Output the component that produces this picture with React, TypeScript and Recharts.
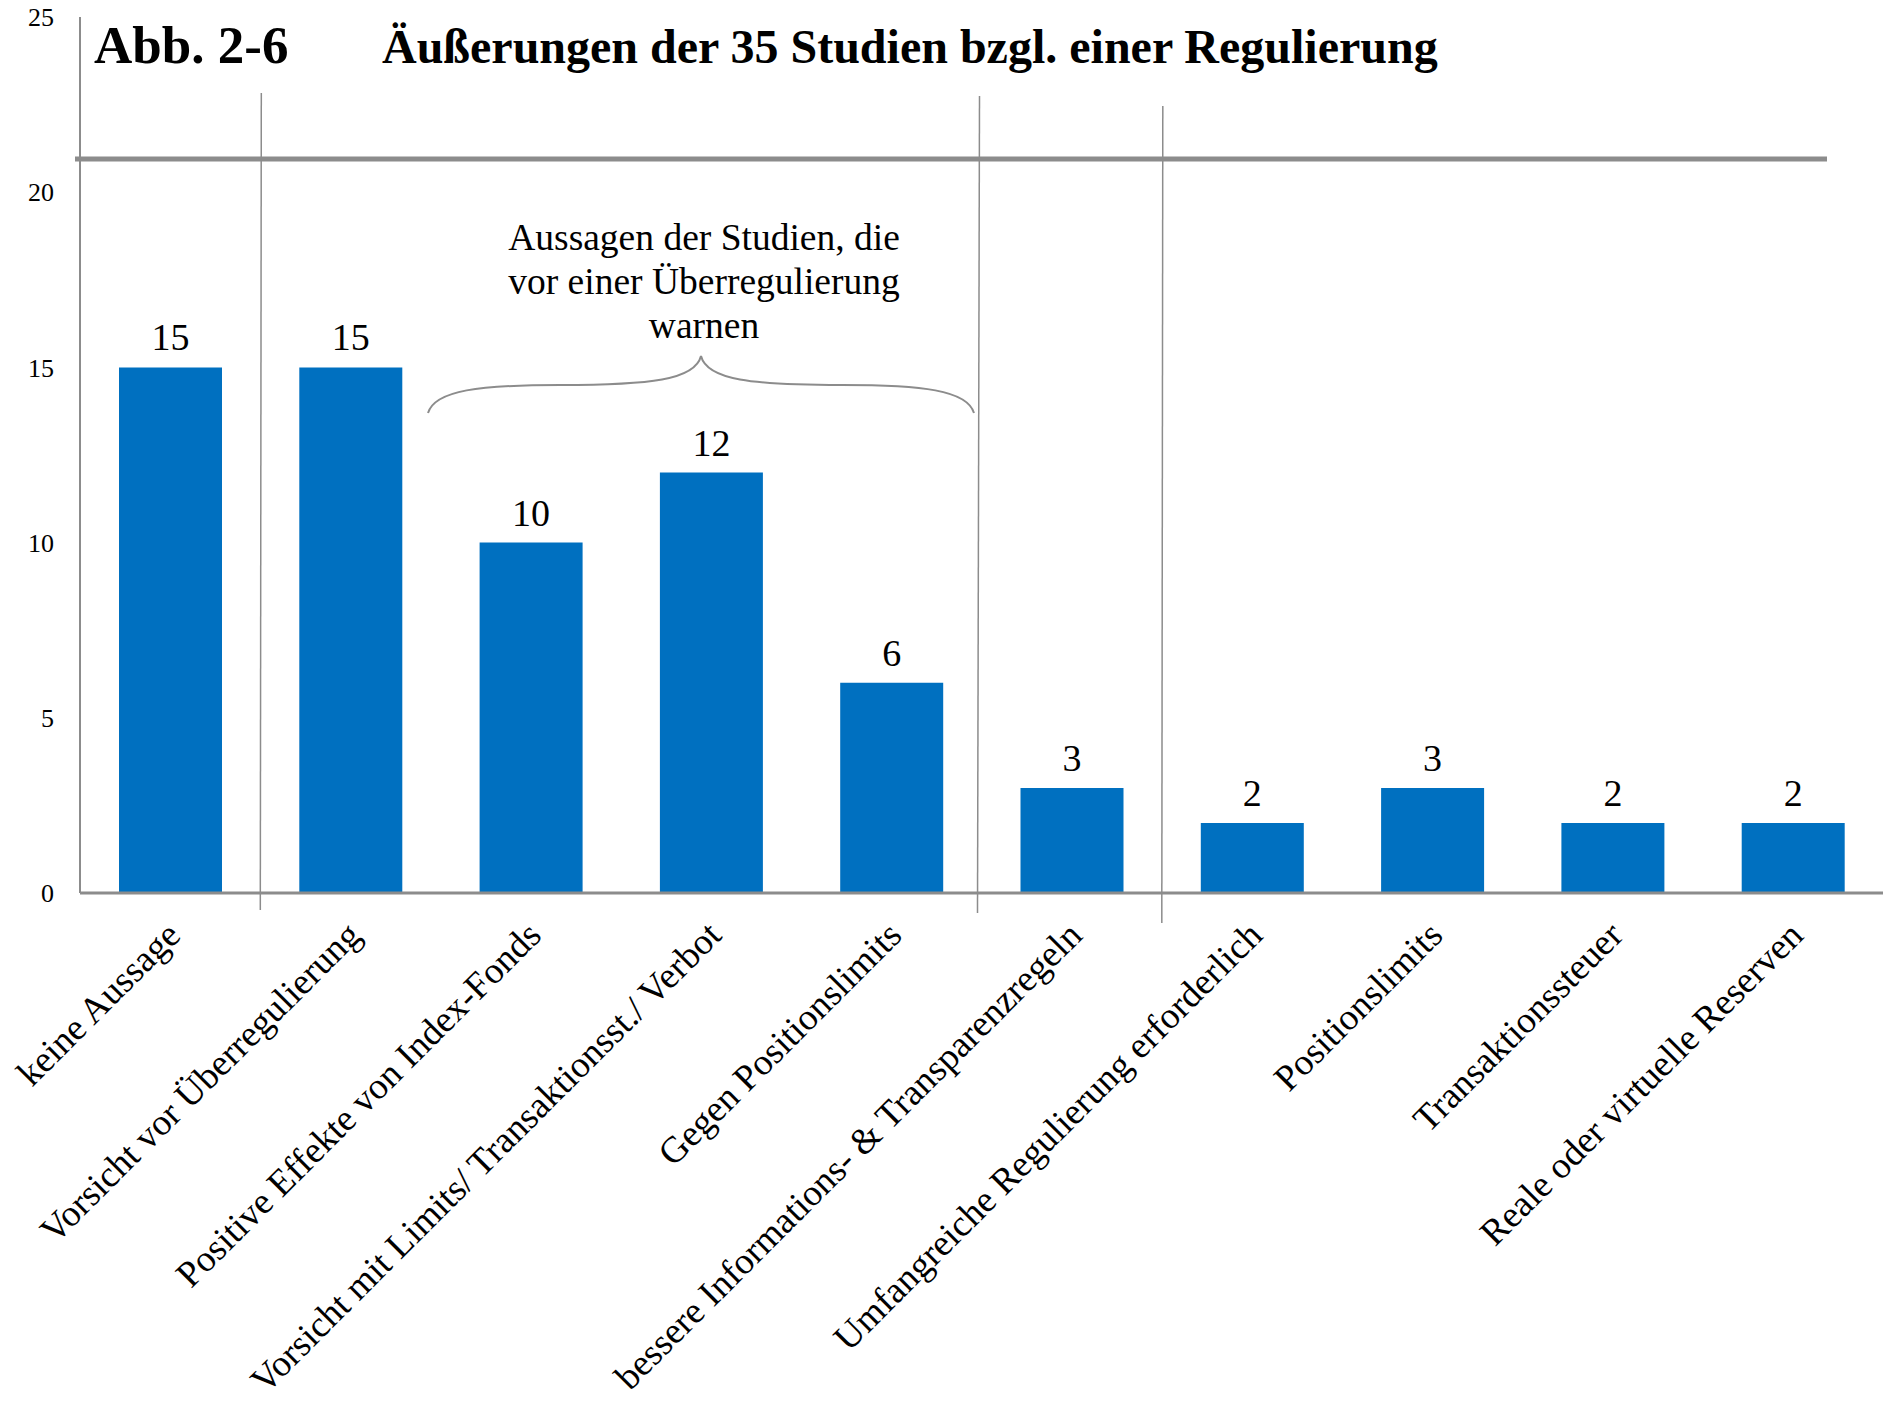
import React from "react";
import { BarChart, Bar, XAxis, YAxis, LabelList } from "recharts";

const categories = [
  "keine Aussage",
  "Vorsicht vor Überregulierung",
  "Positive Effekte von Index-Fonds",
  "Vorsicht mit Limits/ Transaktionsst./ Verbot",
  "Gegen Positionslimits",
  "bessere Informations- & Transparenzregeln",
  "Umfangreiche Regulierung erforderlich",
  "Positionslimits",
  "Transaktionssteuer",
  "Reale oder virtuelle Reserven",
];
const counts = [15, 15, 10, 12, 6, 3, 2, 3, 2, 2];
const yTicks = [0, 5, 10, 15, 20, 25];
const noteLines = [
  "Aussagen der Studien, die",
  "vor einer Überregulierung",
  "warnen",
];

const data = categories.map((name, i) => ({ name, count: counts[i] }));

const W = 1885;
const H = 1402;
const FONT = "'Liberation Serif', 'Times New Roman', serif";
const PLOT_LEFT = 80;
const PLOT_RIGHT = 1883;
const PLOT_TOP = 17;
const PLOT_BOTTOM = 893;
const BAND = (PLOT_RIGHT - PLOT_LEFT) / categories.length;
const GRAY = "#8c8c8c";

const XTick = (props: any) => {
  const { x, y, payload } = props;
  return (
    <g transform={`translate(${x - 6},${y + 18})`}>
      <text
        transform="rotate(-45)"
        textAnchor="end"
        dy="0.7em"
        fontFamily={FONT}
        fontSize={37}
        fill="#000"
      >
        {payload.value}
      </text>
    </g>
  );
};

export default function App() {
  const div = (i: number) => PLOT_LEFT + BAND * i;
  return (
    <div
      style={{
        position: "absolute",
        left: 0,
        top: 0,
        width: W,
        height: H,
        background: "#fff",
      }}
    >
      <BarChart
        width={W}
        height={H}
        data={data}
        margin={{ top: PLOT_TOP, right: W - PLOT_RIGHT, left: 0, bottom: 0 }}
      >
        <XAxis
          dataKey="name"
          interval={0}
          height={H - PLOT_BOTTOM}
          axisLine={{ stroke: GRAY, strokeWidth: 3 }}
          tickLine={false}
          tick={<XTick />}
        />
        <YAxis
          width={PLOT_LEFT}
          domain={[0, 25]}
          ticks={yTicks}
          interval={0}
          axisLine={{ stroke: GRAY, strokeWidth: 2 }}
          tickLine={false}
          tickMargin={20}
          tick={{ fontFamily: FONT, fontSize: 26, fill: "#000" }}
        />
        <Bar dataKey="count" fill="#0070C0" barSize={103} isAnimationActive={false}>
          <LabelList
            dataKey="count"
            position="top"
            offset={17}
            style={{ fontFamily: FONT, fontSize: 38, fill: "#000" }}
          />
        </Bar>
      </BarChart>

      <svg
        width={W}
        height={H}
        style={{ position: "absolute", left: 0, top: 0, pointerEvents: "none" }}
      >
        <text x={94} y={63} fontFamily={FONT} fontWeight="bold" fontSize={53} fill="#000">
          Abb. 2-6
        </text>
        <text x={382} y={63} fontFamily={FONT} fontWeight="bold" fontSize={48} fill="#000">
          Äußerungen der 35 Studien bzgl. einer Regulierung
        </text>
        <line x1={75} y1={159} x2={1827} y2={159} stroke={GRAY} strokeWidth={5} />
        <line x1={div(1) + 1} y1={93} x2={div(1)} y2={910} stroke={GRAY} strokeWidth={1.5} />
        <line x1={div(5) - 2} y1={96} x2={div(5) - 4} y2={913} stroke={GRAY} strokeWidth={1.5} />
        <line x1={div(6) + 1} y1={106} x2={div(6)} y2={923} stroke={GRAY} strokeWidth={1.5} />
        {noteLines.map((t, i) => (
          <text
            key={t}
            x={704}
            y={250 + i * 44}
            textAnchor="middle"
            fontFamily={FONT}
            fontSize={37.5}
            fill="#000"
          >
            {t}
          </text>
        ))}
        <path
          d="M428 413 C435 390,480 385,560 385 C650 385,695 380,701 356 C707 380,752 385,842 385 C922 385,967 390,974 413"
          fill="none"
          stroke={GRAY}
          strokeWidth={2}
        />
      </svg>
    </div>
  );
}
